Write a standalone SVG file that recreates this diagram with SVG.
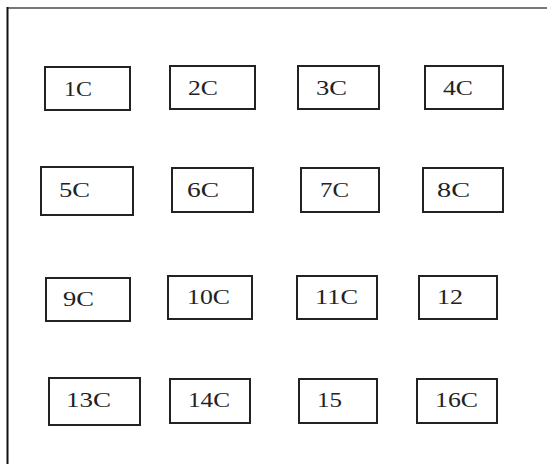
<svg xmlns="http://www.w3.org/2000/svg" width="547" height="464" viewBox="0 0 547 464">
<style>
.b{fill:#fff;stroke:#222;stroke-width:2}
.t{font-family:"Liberation Serif","Times New Roman",serif;font-size:21px;fill:#222}
</style>
<rect width="547" height="464" fill="#fff"/>
<g id="frame">
<line x1="7" y1="8" x2="547" y2="8" stroke="#777" stroke-width="2"/>
<line x1="7.5" y1="7" x2="7.5" y2="464" stroke="#111" stroke-width="2"/>
</g>
<g id="connectors"></g>
<g id="n1"><rect class="b" x="45" y="67" width="85" height="43"/><text class="t" x="64" y="96" textLength="28" lengthAdjust="spacingAndGlyphs">1C</text></g>
<g id="n2"><rect class="b" x="170" y="66" width="85" height="43"/><text class="t" x="188" y="95" textLength="30" lengthAdjust="spacingAndGlyphs">2C</text></g>
<g id="n3"><rect class="b" x="298" y="66" width="81" height="43"/><text class="t" x="316" y="95" textLength="31" lengthAdjust="spacingAndGlyphs">3C</text></g>
<g id="n4"><rect class="b" x="425" y="66" width="78" height="43"/><text class="t" x="443" y="95" textLength="30" lengthAdjust="spacingAndGlyphs">4C</text></g>
<g id="n5"><rect class="b" x="41" y="167" width="92" height="48"/><text class="t" x="59" y="197" textLength="31" lengthAdjust="spacingAndGlyphs">5C</text></g>
<g id="n6"><rect class="b" x="172" y="168" width="81" height="44"/><text class="t" x="187" y="197" textLength="32" lengthAdjust="spacingAndGlyphs">6C</text></g>
<g id="n7"><rect class="b" x="301" y="168" width="78" height="44"/><text class="t" x="320" y="197" textLength="29" lengthAdjust="spacingAndGlyphs">7C</text></g>
<g id="n8"><rect class="b" x="423" y="168" width="80" height="44"/><text class="t" x="437" y="197" textLength="33" lengthAdjust="spacingAndGlyphs">8C</text></g>
<g id="n9"><rect class="b" x="46" y="278" width="84" height="43"/><text class="t" x="63" y="306" textLength="31" lengthAdjust="spacingAndGlyphs">9C</text></g>
<g id="n10"><rect class="b" x="168" y="276" width="84" height="43"/><text class="t" x="187" y="304" textLength="43" lengthAdjust="spacingAndGlyphs">10C</text></g>
<g id="n11"><rect class="b" x="297" y="276" width="80" height="43"/><text class="t" x="315" y="304" textLength="43" lengthAdjust="spacingAndGlyphs">11C</text></g>
<g id="n12"><rect class="b" x="419" y="276" width="78" height="43"/><text class="t" x="437" y="304" textLength="26" lengthAdjust="spacingAndGlyphs">12</text></g>
<g id="n13"><rect class="b" x="49" y="378" width="91" height="47"/><text class="t" x="66" y="407" textLength="45" lengthAdjust="spacingAndGlyphs">13C</text></g>
<g id="n14"><rect class="b" x="170" y="379" width="80" height="44"/><text class="t" x="188" y="407" textLength="42" lengthAdjust="spacingAndGlyphs">14C</text></g>
<g id="n15"><rect class="b" x="299" y="379" width="78" height="44"/><text class="t" x="317" y="407" textLength="25" lengthAdjust="spacingAndGlyphs">15</text></g>
<g id="n16"><rect class="b" x="417" y="379" width="80" height="44"/><text class="t" x="435" y="407" textLength="43" lengthAdjust="spacingAndGlyphs">16C</text></g>
</svg>
